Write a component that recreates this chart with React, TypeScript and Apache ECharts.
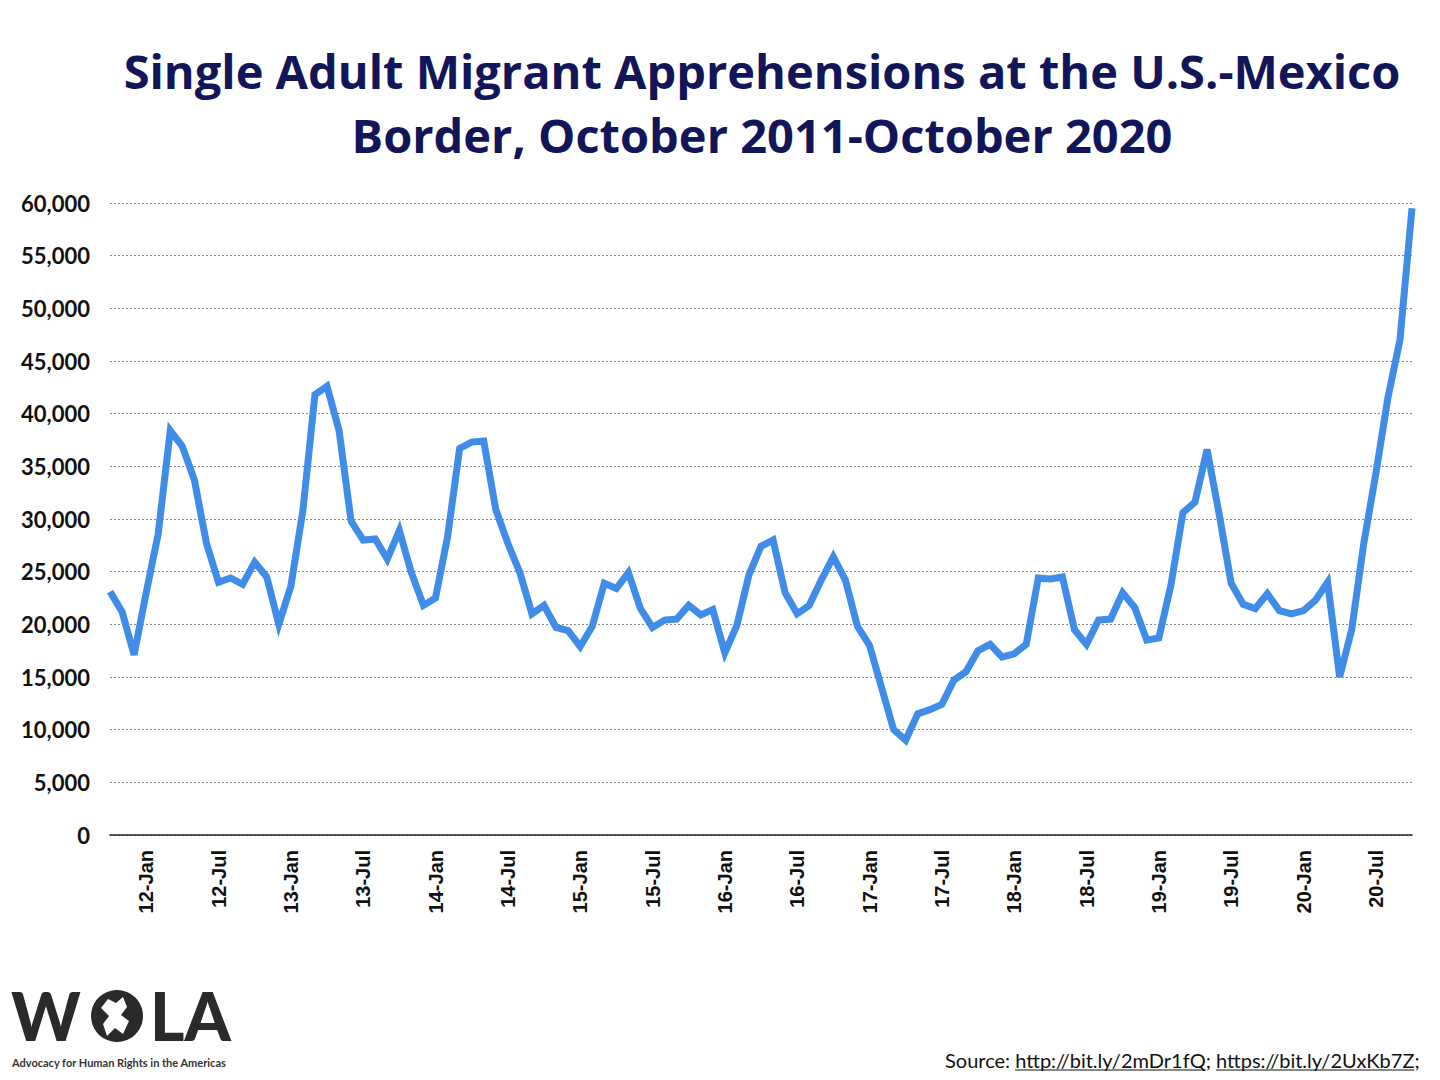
import React, { useEffect, useRef } from "react";
import * as echarts from "echarts";

const MONTHS = ["Jan", "Feb", "Mar", "Apr", "May", "Jun", "Jul", "Aug", "Sep", "Oct", "Nov", "Dec"];
const START_YEAR = 11; // October 2011
const START_MONTH = 9; // index of "Oct"

const TITLE_LINES = [
  "Single Adult Migrant Apprehensions at the U.S.-Mexico",
  "Border, October 2011-October 2020",
];

// Monthly single adult apprehensions, Oct 2011 – Oct 2020
const APPREHENSIONS = [
  23100, 21200, 17100, 23000, 28600, 38400, 36900, 33700, 27700, 24000, 24400, 23800,
  25900, 24500, 20000, 23600, 30800, 41800, 42600, 38400, 29800, 28000, 28100, 26200,
  28900, 24900, 21800, 22500, 28300, 36700, 37300, 37400, 30900, 27700, 24900, 21000,
  21800, 19700, 19400, 17900, 19800, 23900, 23400, 24900, 21500, 19700, 20400, 20500,
  21800, 20900, 21400, 17300, 19900, 24700, 27400, 28000, 23000, 21000, 21800, 24200,
  26400, 24200, 19800, 18000, 14000, 10000, 9000, 11500, 11900, 12400, 14700, 15500,
  17500, 18100, 16900, 17200, 18100, 24400, 24300, 24500, 19500, 18100, 20400, 20500,
  23000, 21600, 18500, 18700, 23700, 30600, 31600, 36600, 30500, 23900, 21900, 21500,
  22900, 21300, 21000, 21300, 22300, 24000, 15000, 19500, 27700, 34300, 41500, 47000,
  59500,
];

const CATEGORIES = APPREHENSIONS.map((_, i) => {
  const m = (START_MONTH + i) % 12;
  const y = START_YEAR + Math.floor((START_MONTH + i) / 12);
  return `${y}-${MONTHS[m]}`;
});

const Y_MIN = 0;
const Y_MAX = 60000;
const Y_STEP = 5000;

const SOURCE_PREFIX = "Source: ";
const SOURCE_LINKS = ["http://bit.ly/2mDr1fQ", "https://bit.ly/2UxKb7Z"];

const LOGO_CAPTION = "Advocacy for Human Rights in the Americas";

function measure(text: string, font: string): number {
  const c = document.createElement("canvas");
  const ctx = c.getContext("2d");
  if (!ctx) return text.length * 9;
  ctx.font = font;
  return ctx.measureText(text).width;
}

export default function App() {
  const ref = useRef<HTMLDivElement>(null);

  useEffect(() => {
    document.body.style.margin = "0";
    if (!ref.current) return;
    const chart = echarts.init(ref.current, undefined, { renderer: "svg" });

    const navy = "#121558";
    const srcFont = "20px Lato";
    const srcY = 1060;
    const elements: any[] = [];

    TITLE_LINES.forEach((t, k) => {
      elements.push({
        type: "text",
        x: 762,
        y: 71 + k * 64,
        style: {
          text: t,
          fill: navy,
          font: "bold 47px 'Open Sans'",
          textAlign: "center",
          textVerticalAlign: "middle",
        },
      });
    });

    // Source line with underlined links
    let sx = 945;
    elements.push({
      type: "text",
      x: sx,
      y: srcY,
      style: { text: SOURCE_PREFIX, fill: "#111", font: srcFont, textAlign: "left", textVerticalAlign: "middle" },
    });
    sx += measure(SOURCE_PREFIX, srcFont);
    SOURCE_LINKS.forEach((link, k) => {
      const w = measure(link, srcFont);
      elements.push({
        type: "text",
        x: sx,
        y: srcY,
        style: { text: link, fill: "#111", font: srcFont, textAlign: "left", textVerticalAlign: "middle" },
      });
      elements.push({
        type: "line",
        shape: { x1: sx, y1: srcY + 10, x2: sx + w, y2: srcY + 10 },
        style: { stroke: "#111", lineWidth: 1 },
      });
      sx += w;
      const sep = k < SOURCE_LINKS.length - 1 ? "; " : ";";
      elements.push({
        type: "text",
        x: sx,
        y: srcY,
        style: { text: sep, fill: "#111", font: srcFont, textAlign: "left", textVerticalAlign: "middle" },
      });
      sx += measure(sep, srcFont);
    });

    // WOLA logo
    const logoColor = "#2a2a2a";
    const logoFont = "900 66px Lato";
    elements.push({
      type: "text",
      x: 11,
      y: 1015,
      style: { text: "W", fill: logoColor, font: logoFont, textAlign: "left", textVerticalAlign: "middle" },
    });
    elements.push({
      type: "circle",
      shape: { cx: 117, cy: 1016, r: 26 },
      style: { fill: logoColor },
    });
    elements.push({
      type: "polygon",
      shape: {
        points: [
          [108, 999], [116, 1003], [123, 997], [127, 1007], [121, 1015], [129, 1021],
          [123, 1034], [115, 1028], [107, 1036], [103, 1024], [109, 1016], [101, 1008],
        ],
      },
      style: { fill: "#ffffff" },
    });
    elements.push({
      type: "text",
      x: 150,
      y: 1015,
      style: { text: "LA", fill: logoColor, font: logoFont, textAlign: "left", textVerticalAlign: "middle" },
    });
    elements.push({
      type: "text",
      x: 12,
      y: 1062,
      style: { text: LOGO_CAPTION, fill: "#333", font: "bold 11px Lato", textAlign: "left", textVerticalAlign: "middle" },
    });

    chart.setOption({
      animation: false,
      backgroundColor: "#ffffff",
      grid: { left: 110, right: 28, top: 203, bottom: 245, containLabel: false },
      xAxis: {
        type: "category",
        data: CATEGORIES,
        boundaryGap: false,
        axisTick: { show: false },
        axisLine: { show: true, lineStyle: { color: "#222", width: 1.5 } },
        axisLabel: {
          interval: (idx: number) => idx % 6 === 3,
          rotate: 90,
          margin: 15,
          fontFamily: "Liberation Sans",
          fontWeight: "bold",
          fontSize: 20,
          color: "#111",
        },
        splitLine: { show: false },
      },
      yAxis: {
        type: "value",
        min: Y_MIN,
        max: Y_MAX,
        interval: Y_STEP,
        axisLine: { show: false },
        axisTick: { show: false },
        axisLabel: {
          margin: 20,
          fontFamily: "Lato",
          fontWeight: "bold",
          fontSize: 22,
          color: "#111",
          formatter: (v: number) => v.toLocaleString("en-US"),
        },
        splitLine: { show: true, lineStyle: { color: "#8a8a8a", type: [2, 2], width: 1 } },
      },
      series: [
        {
          type: "line",
          data: APPREHENSIONS,
          symbol: "none",
          lineStyle: { color: "#3F8DE8", width: 7, join: "miter", cap: "butt" },
          z: 3,
        },
      ],
      graphic: { elements },
    });

    return () => chart.dispose();
  }, []);

  return <div ref={ref} style={{ width: 1440, height: 1080 }} />;
}
